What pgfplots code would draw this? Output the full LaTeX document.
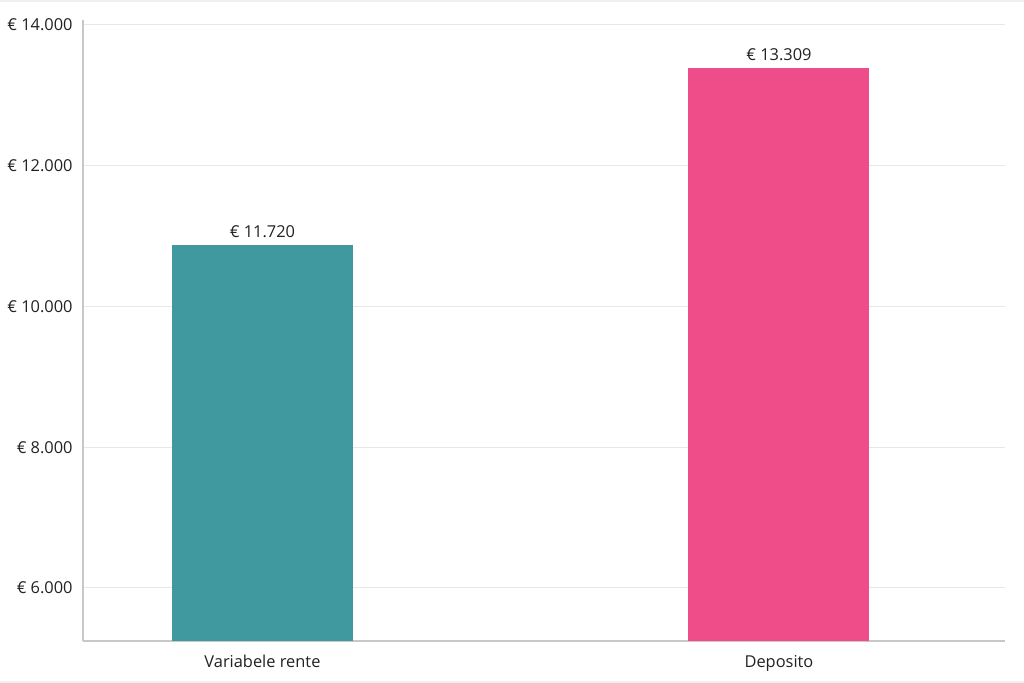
\documentclass[border=0pt]{standalone}
\usepackage{fontspec}
\setmainfont{Open Sans}
\usepackage{pgfplots}
\pgfplotsset{compat=1.18}
\definecolor{tealbar}{HTML}{3F999E}
\definecolor{pinkbar}{HTML}{EF4C8A}
\definecolor{gridc}{HTML}{E8E8E8}
\definecolor{axisc}{HTML}{C8C8C8}
\definecolor{txt}{HTML}{222222}
\begin{document}
\begin{tikzpicture}
% 1 px of the reference = 0.5pt
\useasboundingbox[fill=white] (0,0) rectangle (512pt,341.5pt);
\fill[black!6] (0,0) rectangle (512pt,1.2pt);
\fill[black!6] (0,340.3pt) rectangle (512pt,341.5pt);
\begin{axis}[
  at={(41.5pt,21pt)}, anchor=south west,
  scale only axis,
  width=461pt, height=310.5pt,
  xmin=-0.3475, xmax=1.4376,
  ymin=5247, ymax=14071,
  scaled y ticks=false,
  axis x line*=bottom, axis y line*=left,
  axis line style={axisc, line width=0.6pt},
  xtick={0,1}, xticklabels={Variabele rente, Deposito},
  ytick={6000,8000,10000,12000,14000},
  yticklabels={€ 6.000, € 8.000, € 10.000, € 12.000, € 14.000},
  major tick length=0pt,
  tick label style={font=\fontsize{8.2}{10}\selectfont, text=txt},
  yticklabel style={inner sep=0pt, xshift=-5pt},
  xticklabel style={inner sep=0pt, yshift=-7pt},
  ymajorgrids, grid style={gridc, line width=0.5pt},
  ybar, bar width=90.5pt, bar shift=0pt,
  point meta=explicit symbolic,
  nodes near coords,
  every node near coord/.append style={font=\fontsize{8.2}{10}\selectfont, text=txt, inner sep=0pt, anchor=south, yshift=3.5pt},
  clip=false,
]
\addplot[draw=none, fill=tealbar] coordinates {(0,10874) [€ 11.720]};
\addplot[draw=none, fill=pinkbar] coordinates {(1,13389) [€ 13.309]};
\end{axis}
\end{tikzpicture}
\end{document}
